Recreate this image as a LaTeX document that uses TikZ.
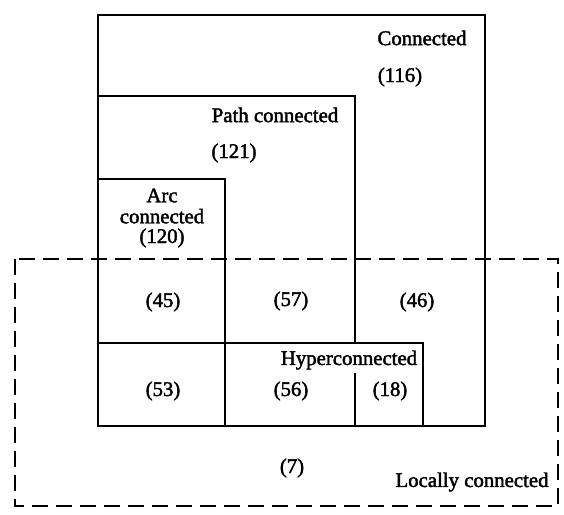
\documentclass[tikz,border=0pt]{standalone}
\usepackage{fontspec}
\setmainfont[BoldFont={Liberation Serif},BoldFeatures={FakeBold=2}]{Liberation Serif}

\begin{document}
\begin{tikzpicture}[x=1pt,y=-1pt,box line/.style={line width=2pt},local line/.style={line width=1.7pt,dash pattern=on 16pt off 8pt},region label/.style={font=\fontsize{20.8}{21}\selectfont\bfseries,inner sep=0pt,align=center}]
                \useasboundingbox (0,0) rectangle (564,514);

                % the nested boxes
                \draw[box line] (98,14.5) rectangle (484.5,426);
                \draw[box line] (98,96) -- (354.5,96) -- (354.5,343);
                \draw[box line] (354.5,373) -- (354.5,426);
                \draw[box line] (98,179) -- (225,179) -- (225,426);
                \draw[box line] (98,343) -- (423,343) -- (423,426);
                \draw[local line] (15,259) rectangle (558,506);

                \node[region label] (conn) at (422,38) {Connected};
                \node[region label] (n116) at (400,77) {(116)};
                \node[region label] (path) at (275,115) {Path connected};
                \node[region label] (n121) at (234,153) {(121)};
                \node[region label] (arc) at (162,206) {Arc\\connected};
                \node[region label] (n120) at (162,238) {(120)};
                \node[region label] (n45) at (163,302) {(45)};
                \node[region label] (n57) at (291,301) {(57)};
                \node[region label] (n46) at (417,302) {(46)};
                \node[region label] (hyper) at (349,360) {Hyperconnected};
                \node[region label] (n53) at (163,391) {(53)};
                \node[region label] (n56) at (291,391) {(56)};
                \node[region label] (n18) at (390,391) {(18)};
                \node[region label] (n7) at (292,468) {(7)};
                \node[region label] (local) at (472,482) {Locally connected};
            \end{tikzpicture}
\end{document}
